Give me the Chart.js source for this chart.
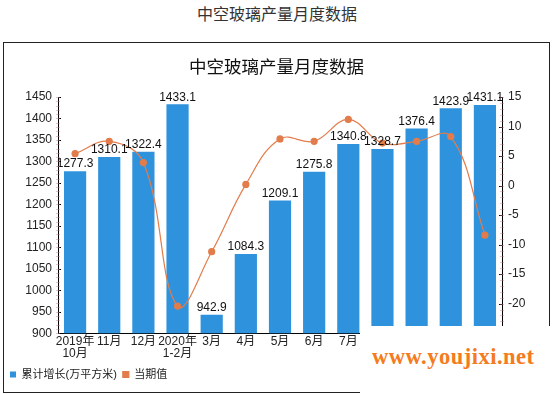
<!DOCTYPE html>
<html>
<head>
<meta charset="utf-8">
<script src="https://cdn.jsdelivr.net/npm/chart.js@4.4.0/dist/chart.umd.min.js"></script>
<style>
  body { margin: 0; width: 554px; height: 394px; background: #fff; position: relative; overflow: hidden; font-family: "Liberation Sans", "Noto Sans CJK SC", sans-serif; }
  #pageTitle { position: absolute; left: 0; top: 2px; width: 554px; text-align: center; font-size: 16px; line-height: 22px; color: #333; font-family: "Noto Sans CJK SC", sans-serif; }
  #box { position: absolute; left: 3px; top: 42px; width: 545px; height: 349px; border: 1px solid #222; }
  #mark { position: absolute; left: 360px; top: 326px; width: 194px; height: 68px; background: #fff; }
  #mark span { position: absolute; left: 12px; top: 18px; font: bold 22.5px/26px "Liberation Serif", serif; color: #F47B20; letter-spacing: 0.5px; }
</style>
</head>
<body>
<div id="pageTitle">中空玻璃产量月度数据</div>
<div id="box"><canvas id="grafico" width="545" height="349"></canvas></div>
<div id="mark"><span>www.youjixi.net</span></div>
<script>
const meses = [['2019年', '10月'], '11月', '12月', ['2020年', '1-2月'], '3月', '4月', '5月', '6月', '7月', '8月', '9月', '10月', '11月'];
const acumulado = [1277.3, 1310.1, 1322.4, 1433.1, 942.9, 1084.3, 1209.1, 1275.8, 1340.8, 1328.7, 1376.4, 1423.9, 1431.1];
const actual = [5.4, 7.5, 3.9, -20.4, -11.2, 0.2, 7.9, 7.5, 11.2, 7.2, 7.5, 8.3, -8.4];

const fuente = '"Liberation Sans", "Noto Sans CJK SC", sans-serif';

// etiquetas encima de las barras
const etiquetas = {
    id: 'etiquetas',
    afterDatasetsDraw(chart) {
        const c = chart.ctx;
        const meta = chart.getDatasetMeta(0);
        c.save();
        c.font = '12px ' + fuente;
        c.fillStyle = '#111';
        c.textAlign = 'center';
        c.textBaseline = 'bottom';
        meta.data.forEach((bar, i) => {
            c.fillText(acumulado[i].toFixed(1), bar.x, bar.y - 1);
        });
        c.restore();
    }
};

// marcas que cruzan el eje (hacia dentro) y marcas menores
const marcas = {
    id: 'marcas',
    afterDraw(chart) {
        const c = chart.ctx;
        c.save();
        c.lineWidth = 1;
        ['y', 'y1'].forEach(id => {
            const s = chart.scales[id];
            const x = id === 'y' ? s.right : s.left;
            const dir = id === 'y' ? 1 : -1;
            c.strokeStyle = '#000';
            s.ticks.forEach(t => {
                const y = Math.round(s.getPixelForValue(t.value)) + 0.5;
                c.beginPath(); c.moveTo(x, y); c.lineTo(x + dir * 3, y); c.stroke();
            });
            c.strokeStyle = 'rgba(200,120,120,0.45)';
            const paso = id === 'y' ? 10 : 1;
            for (let v = s.min; v <= s.max; v += paso) {
                const y = Math.round(s.getPixelForValue(v)) + 0.5;
                c.beginPath(); c.moveTo(x - 2, y); c.lineTo(x + 2, y); c.stroke();
            }
        });
        c.restore();
    }
};

const ctx = document.getElementById('grafico').getContext('2d');
const chart = new Chart(ctx, {
    type: 'bar',
    data: {
        labels: meses,
        datasets: [
            { label: '累计增长(万平方米)', data: acumulado, backgroundColor: '#2E93DC', yAxisID: 'y', order: 1, barPercentage: 0.65, categoryPercentage: 1 },
            { label: '当期值', type: 'line', data: actual, borderColor: '#E27C4B', backgroundColor: '#E27C4B', borderWidth: 1.2, pointRadius: 3, pointHoverRadius: 3, tension: 0.4, yAxisID: 'y1', order: 0 }
        ]
    },
    options: {
        responsive: false,
        animation: false,
        layout: { padding: { left: 0, right: 0, top: 0, bottom: 2 } },
        plugins: {
            title: { display: true, text: '中空玻璃产量月度数据', color: '#111', font: { size: 17.5, family: '"Noto Sans CJK SC", sans-serif', weight: 'normal', lineHeight: 1.2 }, padding: { top: 13, bottom: 20 } },
            legend: {
                position: 'bottom', align: 'start',
                labels: { boxWidth: 6, boxHeight: 6, color: '#222', font: { size: 11, family: fuente }, padding: 6, sort: (a, b) => a.datasetIndex - b.datasetIndex }
            },
            tooltip: { enabled: false }
        },
        scales: {
            x: {
                afterFit(s) { s.height += 4; },
                grid: { display: false, drawTicks: true, tickLength: 3 },
                border: { color: '#000' },
                ticks: { color: '#222', font: { size: 12, family: fuente, lineHeight: 0.95 }, maxRotation: 0, autoSkip: false, padding: 0 }
            },
            y: {
                position: 'left', min: 900, max: 1450,
                afterFit(s) { s.width = 54; },
                grid: { display: false, drawTicks: true, tickLength: 4 },
                border: { color: '#000' },
                ticks: { stepSize: 50, color: '#222', font: { size: 12, family: fuente }, padding: 2, callback: v => String(v) }
            },
            y1: {
                position: 'right', min: -25, max: 15,
                afterFit(s) { s.width = 47; },
                grid: { display: false, drawTicks: true, tickLength: 4 },
                border: { color: '#000' },
                ticks: { stepSize: 5, color: '#222', font: { size: 12, family: fuente }, padding: 2,
                    callback: v => v === -25 ? '' : String(v) }
            }
        }
    },
    plugins: [etiquetas, marcas]
});
</script>
</body>
</html>
